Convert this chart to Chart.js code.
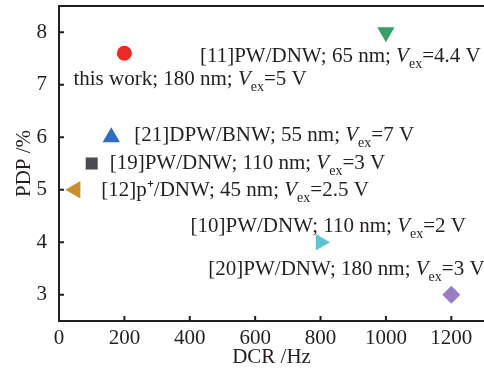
<!DOCTYPE html>
<html>
<head>
<meta charset="utf-8">
<script src="https://cdn.jsdelivr.net/npm/chart.js@4.4.1/dist/chart.umd.min.js"></script>
<style>
  html, body { margin: 0; padding: 0; background: #fff; }
  #wrap { width: 484px; height: 370px; }
</style>
</head>
<body>
<div id="wrap"><canvas id="chart"></canvas></div>
<script>
// data
const works = ['this work', '[11]', '[21]', '[19]', '[12]', '[10]', '[20]'];
const dcr = [200, 1000, 160, 100, 50, 800, 1200];          // Hz
const pdp = [7.6, 8.0, 6.0, 5.5, 5.0, 4.0, 3.0];           // %
const labelMain = [
  'this work; 180 nm; ',
  '[11]PW/DNW; 65 nm; ',
  '[21]DPW/BNW; 55 nm; ',
  '[19]PW/DNW; 110 nm; ',
  '[12]p\u207A/DNW; 45 nm; ',
  '[10]PW/DNW; 110 nm; ',
  '[20]PW/DNW; 180 nm; '
];
const vex = ['5', '4.4', '7', '3', '2.5', '2', '3'];        // V
const xTicks = [0, 200, 400, 600, 800, 1000, 1200];
const yTicks = [3, 4, 5, 6, 7, 8];

// marker look
const colors = ['#ec2a25', '#3a9e6b', '#2d6dc3', '#4b4b4d', '#c98f2e', '#5cc5d1', '#9a7dc3'];
const shapes = ['circle', 'triangle', 'triangle', 'rect', 'triangle', 'triangle', 'rectRot'];
const rotations = [0, 180, 0, 0, -90, 90, 0];
const radii = [7.5, 10, 10, 8.5, 10, 9.5, 9];
// label offset from marker centre (px), left/baseline of text
const labelDx = [-51, -186, 23, 18, 26, -130, -243];
const labelDy = [32, 30, 4, 5.5, 6.5, -10, -20];

const AXIS = '#231f20';
const FONT = '"Liberation Serif", "Times New Roman", serif';

const frame = {
  id: 'frame',
  afterDraw(chart) {
    const {ctx, chartArea: a, scales: {x, y}} = chart;
    ctx.save();
    ctx.strokeStyle = AXIS;
    ctx.lineWidth = 2;
    ctx.beginPath();
    ctx.moveTo(a.left, a.top);
    ctx.lineTo(a.right, a.top);
    xTicks.forEach(v => {
      const px = x.getPixelForValue(v);
      ctx.moveTo(px, a.bottom);
      ctx.lineTo(px, a.bottom - 5);
    });
    yTicks.forEach(v => {
      const py = y.getPixelForValue(v);
      ctx.moveTo(a.left, py);
      ctx.lineTo(a.left + 5, py);
    });
    ctx.stroke();

    // point labels
    const meta = chart.getDatasetMeta(0);
    ctx.fillStyle = AXIS;
    ctx.textBaseline = 'alphabetic';
    meta.data.forEach((pt, i) => {
      let tx = pt.x + labelDx[i];
      const ty = pt.y + labelDy[i];
      ctx.font = '21px ' + FONT;
      ctx.fillText(labelMain[i], tx, ty);
      tx += ctx.measureText(labelMain[i]).width;
      ctx.font = 'italic 21px ' + FONT;
      ctx.fillText('V', tx, ty);
      tx += ctx.measureText('V').width;
      ctx.font = '14px ' + FONT;
      ctx.fillText('ex', tx, ty + 6);
      tx += ctx.measureText('ex').width;
      ctx.font = '21px ' + FONT;
      ctx.fillText('=' + vex[i] + ' V', tx, ty);
    });
    ctx.restore();
  }
};

new Chart(document.getElementById('chart'), {
  type: 'scatter',
  data: {
    datasets: [{
      label: 'PDP vs DCR',
      data: dcr.map((d, i) => ({x: d, y: pdp[i]})),
      pointStyle: shapes,
      rotation: rotations,
      radius: radii,
      hoverRadius: radii,
      backgroundColor: colors,
      borderColor: colors,
      borderWidth: 0
    }]
  },
  options: {
    responsive: true,
    maintainAspectRatio: false,
    animation: false,
    layout: { autoPadding: false, padding: { top: 6, right: 0, left: 0, bottom: 0 } },
    plugins: { legend: { display: false }, tooltip: { enabled: false } },
    scales: {
      x: {
        type: 'linear',
        min: 0,
        max: 1300,
        afterBuildTicks(s) { s.ticks = xTicks.map(v => ({value: v})); },
        afterFit(s) { s.height = 49; s.paddingLeft = 0; s.paddingRight = 0; },
        grid: { display: false },
        border: { display: true, color: AXIS, width: 2 },
        ticks: {
          padding: -3,
          color: AXIS,
          maxRotation: 0,
          autoSkip: false,
          font: { family: FONT, size: 21 },
          callback: v => String(v)
        },
        title: {
          display: true,
          text: 'DCR /Hz',
          color: AXIS,
          font: { family: FONT, size: 21 },
          padding: { top: 0, bottom: 0 }
        }
      },
      y: {
        type: 'linear',
        min: 2.5,
        max: 8.5,
        afterBuildTicks(s) { s.ticks = yTicks.map(v => ({value: v})); },
        afterFit(s) { s.width = 59; s.paddingTop = 0; s.paddingBottom = 0; },
        grid: { display: false },
        border: { display: true, color: AXIS, width: 2 },
        ticks: {
          padding: 4,
          color: AXIS,
          autoSkip: false,
          font: { family: FONT, size: 21 },
          callback: v => String(v)
        },
        title: {
          display: true,
          text: 'PDP /%',
          color: AXIS,
          font: { family: FONT, size: 21 },
          padding: { top: 12, bottom: 0 }
        }
      }
    }
  },
  plugins: [frame]
});
</script>
</body>
</html>
